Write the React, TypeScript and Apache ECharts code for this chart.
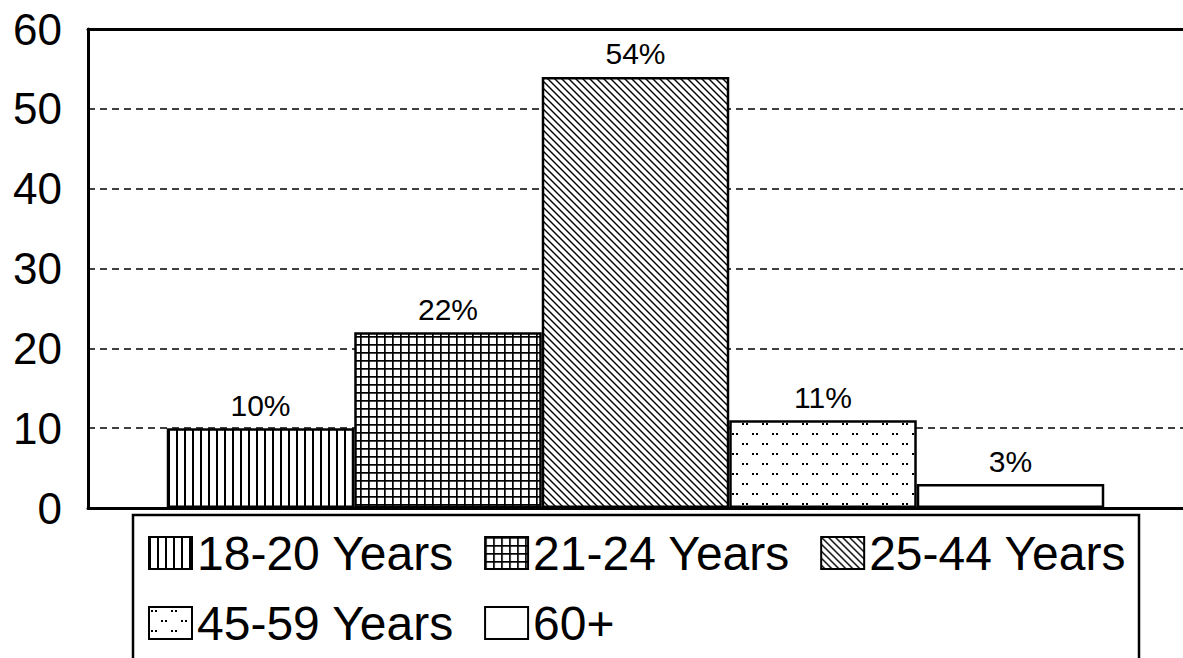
import React, { useEffect, useRef } from "react";
import * as echarts from "echarts";

const groups: string[] = ["18-20 Years", "21-24 Years", "25-44 Years", "45-59 Years", "60+"];
const values: number[] = [10, 22, 54, 11, 3];
const yTicks: number[] = [0, 10, 20, 30, 40, 50, 60];
const legendRow1: string[] = ["18-20 Years", "21-24 Years", "25-44 Years"];
const legendRow2: string[] = ["45-59 Years", "60+"];

const FONT = '"Liberation Sans", Arial, Helvetica, sans-serif';

function makeTile(w: number, h: number, draw: (ctx: CanvasRenderingContext2D) => void) {
  const c = document.createElement("canvas");
  c.width = w;
  c.height = h;
  const ctx = c.getContext("2d")!;
  ctx.fillStyle = "#fff";
  ctx.fillRect(0, 0, w, h);
  ctx.fillStyle = "#000";
  ctx.strokeStyle = "#000";
  draw(ctx);
  return { image: c.toDataURL(), repeat: "repeat", imageWidth: w, imageHeight: h } as any;
}

function buildPatterns() {
  const vertical = makeTile(8, 8, (ctx) => {
    ctx.fillRect(0, 0, 2, 8);
  });
  const grid = makeTile(8, 8, (ctx) => {
    ctx.fillRect(0, 0, 1.7, 8);
    ctx.fillRect(0, 0, 8, 1.7);
  });
  const diag = makeTile(7, 7, (ctx) => {
    ctx.lineWidth = 1.4;
    for (const k of [-7, 0, 7]) {
      ctx.beginPath();
      ctx.moveTo(-1, -1 + k);
      ctx.lineTo(8, 8 + k);
      ctx.stroke();
    }
  });
  const dots = makeTile(20, 20, (ctx) => {
    ctx.fillRect(2, 3, 2, 2);
    ctx.fillRect(6, 3, 2, 2);
    ctx.fillRect(12, 13, 2, 2);
    ctx.fillRect(16, 13, 2, 2);
  });
  return [vertical, grid, diag, dots, "#ffffff"];
}

export default function App() {
  const ref = useRef<HTMLDivElement>(null);
  useEffect(() => {
    if (!ref.current) return;
    const chart = echarts.init(ref.current, undefined, { renderer: "svg" });
    const fills = buildPatterns();
    const series = groups.map((name, i) => ({
      name,
      type: "bar",
      data: [values[i]],
      barWidth: 187.5,
      barGap: "0%",
      itemStyle: { color: fills[i], borderColor: "#000", borderWidth: 2.5 },
      label: {
        show: true,
        position: "top",
        distance: 8,
        formatter: "{c}%",
        fontSize: 30,
        fontFamily: FONT,
        color: "#000",
      },
      emphasis: { disabled: true },
    }));
    const legendCommon = {
      orient: "horizontal",
      left: 148,
      padding: 0,
      itemGap: 30,
      itemWidth: 43,
      itemHeight: 32,
      icon: "rect",
      selectedMode: false,
      itemStyle: { borderColor: "#000", borderWidth: 2 },
      textStyle: { fontSize: 48, fontFamily: FONT, color: "#000" },
    };
    chart.setOption({
      animation: false,
      backgroundColor: "#fff",
      grid: { left: 88, right: -2, top: 29, bottom: 150, containLabel: false },
      legend: [
        { ...legendCommon, top: 529, data: legendRow1 },
        { ...legendCommon, top: 599, data: legendRow2 },
      ],
      graphic: [
        {
          type: "rect",
          shape: { x: 133, y: 515, width: 1006, height: 200 },
          style: { fill: "none", stroke: "#000", lineWidth: 2.5 },
          z: 0,
          silent: true,
        },
      ],
      xAxis: [
        {
          type: "category",
          data: [""],
          position: "bottom",
          axisLine: { show: true, lineStyle: { color: "#000", width: 3 } },
          axisTick: { show: false },
          axisLabel: { show: false },
        },
        {
          type: "category",
          data: [""],
          position: "top",
          axisLine: { show: true, lineStyle: { color: "#000", width: 3 } },
          axisTick: { show: false },
          axisLabel: { show: false },
        },
      ],
      yAxis: {
        type: "value",
        min: yTicks[0],
        max: yTicks[yTicks.length - 1],
        interval: 10,
        axisLine: { show: true, lineStyle: { color: "#000", width: 3 } },
        axisTick: { show: false },
        axisLabel: { fontSize: 44, fontFamily: FONT, color: "#000", margin: 26 },
        splitLine: { show: true, lineStyle: { color: "#000", width: 1.5, type: [7, 5] } },
      },
      series,
    } as any);
    return () => chart.dispose();
  }, []);
  return (
    <div
      ref={ref}
      style={{ position: "fixed", left: 0, top: 0, width: 1183, height: 658, background: "#fff" }}
    />
  );
}
